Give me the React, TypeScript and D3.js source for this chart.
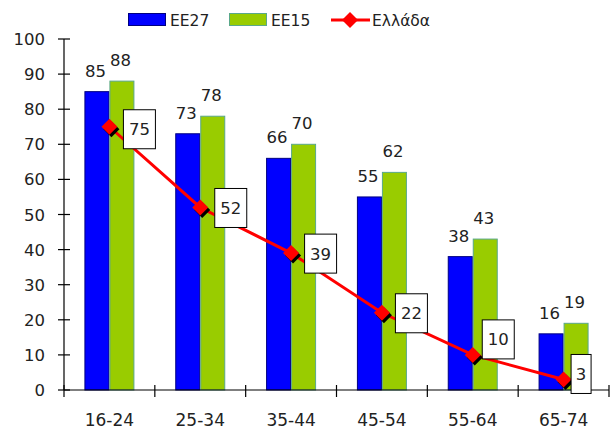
import React from "react";
import * as d3 from "d3";

const categories = ["16-24", "25-34", "35-44", "45-54", "55-64", "65-74"];
const seriesNames = ["EE27", "EE15"];
const ee27 = [85, 73, 66, 55, 38, 16];
const ee15 = [88, 78, 70, 62, 43, 19];
const greece = [75, 52, 39, 22, 10, 3];
const lineName = "Ελλάδα";
const yTicks = [0, 10, 20, 30, 40, 50, 60, 70, 80, 90, 100];

// layout-only nudges for the boxed labels of the line (px)
const boxDx = [13.5, 14, 13, 13, 9, 7];
const boxDy = [2, 0, 0, 0, -16, -6];

const W = 611;
const H = 430;
const FONT = "'DejaVu Sans', Verdana, sans-serif";
const BLUE = "#0000FF";
const GREEN = "#99CC00";
const RED = "#FF0000";

export default function App() {
  const x = d3.scaleBand<string>().domain(categories).range([64, 609]).padding(0);
  const bw = x.bandwidth();
  const barW = 25;
  const xs = d3
    .scaleBand<string>()
    .domain(seriesNames)
    .range([bw / 2 - barW, bw / 2 + barW])
    .padding(0);
  const y = d3.scaleLinear().domain([0, 100]).range([390, 39]);
  const values = [ee27, ee15];
  const fills = [BLUE, GREEN];
  const strokes = ["#000080", "#5aa88a"];

  const cx = (c: string) => (x(c) as number) + bw / 2;
  const lineGen = d3
    .line<number>()
    .x((_, i) => cx(categories[i]))
    .y((d) => y(d));

  const diamond = (px: number, py: number, r: number) =>
    `M${px},${py - r}L${px + r},${py}L${px},${py + r}L${px - r},${py}Z`;

  const boundaries = categories.map((c) => x(c) as number).concat([609]);

  return (
    <svg
      width={W}
      height={H}
      style={{ position: "absolute", left: 0, top: 0, background: "#fff" }}
      fontFamily={FONT}
    >
      <rect x={0} y={0} width={W} height={H} fill="#fff" />
      {/* bars */}
      {categories.map((c, i) =>
        seriesNames.map((s, k) => {
          const bx = (x(c) as number) + (xs(s) as number);
          const by = y(values[k][i]);
          return (
            <g key={c + s}>
              <rect
                x={bx + 0.5}
                y={by}
                width={xs.bandwidth() - 1}
                height={y(0) - by}
                fill={fills[k]}
                stroke={strokes[k]}
                strokeWidth={1}
              />
              <text
                x={bx + xs.bandwidth() / 2 - 1.5}
                y={by - 15}
                textAnchor="middle"
                fontSize={16.5}
                fill="#222"
              >
                {values[k][i]}
              </text>
            </g>
          );
        })
      )}
      {/* axes */}
      <line x1={64} y1={39} x2={64} y2={390} stroke="#000" strokeWidth={1.2} />
      {yTicks.map((t) => (
        <g key={t}>
          <line x1={58} x2={70} y1={y(t)} y2={y(t)} stroke="#000" strokeWidth={1.2} />
          <text x={45} y={y(t) + 6} textAnchor="end" fontSize={16.5} fill="#222">
            {t}
          </text>
        </g>
      ))}
      <line x1={64} y1={390} x2={609} y2={390} stroke="#000" strokeWidth={1.2} />
      {boundaries.map((b, i) => (
        <line key={i} x1={b} x2={b} y1={385} y2={397} stroke="#000" strokeWidth={1.2} />
      ))}
      {categories.map((c) => (
        <text key={c} x={cx(c)} y={426} textAnchor="middle" fontSize={17} fill="#222">
          {c}
        </text>
      ))}
      {/* line series */}
      <path d={lineGen(greece) || ""} fill="none" stroke={RED} strokeWidth={3} />
      {greece.map((v, i) => {
        const px = cx(categories[i]);
        const py = y(v);
        return (
          <g key={i}>
            <path d={diamond(px + 2, py + 2.5, 8)} fill="#000" />
            <path d={diamond(px, py, 8)} fill={RED} />
          </g>
        );
      })}
      {/* boxed labels */}
      {greece.map((v, i) => {
        const px = cx(categories[i]);
        const py = y(v);
        const label = String(v);
        const tw = label.length * 10.5;
        const bwid = label.length === 1 ? 20 : tw + 11;
        const bh = 39;
        const left = px + boxDx[i];
        const mid = py + boxDy[i];
        return (
          <g key={"b" + i}>
            <rect
              x={left + 0.5}
              y={mid - bh / 2 + 0.5}
              width={bwid}
              height={bh}
              fill="#fff"
              stroke="#000"
              strokeWidth={1}
            />
            <text
              x={left + 0.5 + bwid / 2}
              y={mid + 6.5}
              textAnchor="middle"
              fontSize={16.5}
              fill="#222"
            >
              {label}
            </text>
          </g>
        );
      })}
      {/* legend */}
      <rect x={128.5} y={13.5} width={37} height={12} fill={BLUE} stroke="#000080" />
      <text x={170} y={26} fontSize={15.5} fill="#222">
        {seriesNames[0]}
      </text>
      <rect x={229.5} y={13.5} width={37} height={12} fill={GREEN} stroke="#5aa88a" />
      <text x={271} y={26} fontSize={15.5} fill="#222">
        {seriesNames[1]}
      </text>
      <line x1={331} x2={370} y1={20} y2={20} stroke={RED} strokeWidth={3} />
      <path d={diamond(350, 20, 8)} fill={RED} />
      <text x={372} y={26} fontSize={15.5} fill="#222">
        {lineName}
      </text>
    </svg>
  );
}
